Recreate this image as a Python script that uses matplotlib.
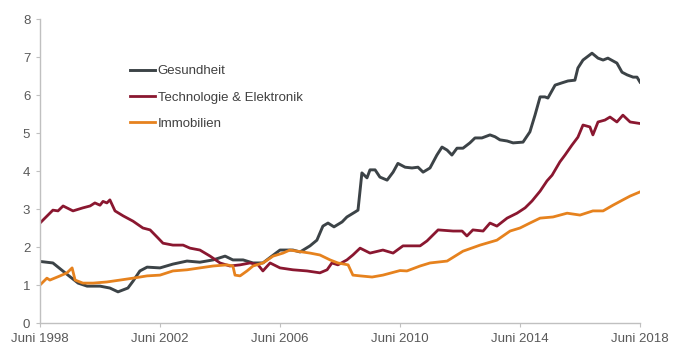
import matplotlib
matplotlib.use("Agg")
import matplotlib.pyplot as plt

# decimal years / index values
gesundheit_years = [
    1998.5, 1998.93, 1999.37, 1999.77, 2000.07, 2000.5, 2000.83, 2001.1, 2001.43, 2001.6,
    2001.83, 2002.07, 2002.5, 2002.93, 2003.4, 2003.83, 2004.27, 2004.67, 2004.93, 2005.27,
    2005.6, 2005.93, 2006.23, 2006.5, 2006.93, 2007.17, 2007.5, 2007.73, 2007.93, 2008.1,
    2008.3, 2008.57, 2008.73, 2009.0, 2009.1, 2009.23, 2009.4, 2009.5, 2009.67, 2009.83,
    2010.07, 2010.27, 2010.43, 2010.67, 2010.9, 2011.1, 2011.27, 2011.5, 2011.73, 2011.9,
    2012.07, 2012.23, 2012.4, 2012.6, 2012.83, 2013.0, 2013.23, 2013.5, 2013.67, 2013.83,
    2014.07, 2014.27, 2014.6, 2014.83, 2015.0, 2015.17, 2015.33, 2015.43, 2015.67, 2015.9,
    2016.1, 2016.33, 2016.43, 2016.6, 2016.9, 2017.1, 2017.27, 2017.43, 2017.73, 2017.9,
    2018.07, 2018.27, 2018.4, 2018.5,
]
gesundheit = [
    1.62, 1.58, 1.30, 1.05, 0.97, 0.97, 0.92, 0.82, 0.92, 1.10,
    1.37, 1.47, 1.45, 1.55, 1.63, 1.60, 1.66, 1.76, 1.66, 1.66,
    1.58, 1.58, 1.76, 1.92, 1.92, 1.87, 2.03, 2.18, 2.55, 2.63,
    2.53, 2.66, 2.79, 2.92, 2.97, 3.95, 3.82, 4.03, 4.03, 3.84,
    3.76, 3.97, 4.20, 4.10, 4.08, 4.10, 3.97, 4.08, 4.42, 4.63,
    4.55, 4.42, 4.60, 4.60, 4.74, 4.87, 4.87, 4.95, 4.90, 4.82,
    4.79, 4.74, 4.76, 5.03, 5.47, 5.95, 5.95, 5.92, 6.26, 6.32,
    6.37, 6.39, 6.71, 6.92, 7.10, 6.97, 6.92, 6.97, 6.84, 6.60,
    6.53, 6.47, 6.47, 6.34,
]

technologie_years = [
    1998.5, 1998.93, 1999.1, 1999.27, 1999.6, 1999.93, 2000.17, 2000.33, 2000.5, 2000.6,
    2000.73, 2000.83, 2001.0, 2001.27, 2001.6, 2001.93, 2002.17, 2002.43, 2002.6, 2002.93,
    2003.27, 2003.5, 2003.83, 2004.17, 2004.5, 2004.83, 2005.17, 2005.5, 2005.77, 2005.93,
    2006.17, 2006.5, 2006.93, 2007.4, 2007.83, 2008.07, 2008.23, 2008.43, 2008.73, 2008.93,
    2009.17, 2009.5, 2009.93, 2010.27, 2010.6, 2011.17, 2011.4, 2011.77, 2012.27, 2012.57,
    2012.73, 2012.93, 2013.27, 2013.5, 2013.73, 2014.07, 2014.4, 2014.67, 2014.9, 2015.17,
    2015.4, 2015.57, 2015.83, 2016.0, 2016.23, 2016.43, 2016.6, 2016.83, 2016.93, 2017.1,
    2017.33, 2017.5, 2017.73, 2017.93, 2018.17, 2018.5,
]
technologie = [
    2.63, 2.97, 2.95, 3.08, 2.95, 3.03, 3.08, 3.16, 3.10, 3.20,
    3.16, 3.24, 2.95, 2.82, 2.68, 2.50, 2.45, 2.24, 2.10, 2.05,
    2.05, 1.97, 1.92, 1.76, 1.58, 1.50, 1.53, 1.58, 1.53, 1.37,
    1.58, 1.45, 1.40, 1.37, 1.32, 1.40, 1.58, 1.53, 1.66, 1.79,
    1.97, 1.84, 1.92, 1.84, 2.03, 2.03, 2.16, 2.45, 2.42, 2.42,
    2.29, 2.45, 2.42, 2.63, 2.55, 2.76, 2.89, 3.03, 3.21, 3.47,
    3.74, 3.89, 4.24, 4.42, 4.68, 4.89, 5.21, 5.16, 4.95, 5.29,
    5.34, 5.42, 5.29, 5.47, 5.29, 5.25,
]

immobilien_years = [
    1998.5, 1998.73, 1998.83, 1999.17, 1999.4, 1999.57, 1999.67, 1999.93, 2000.27, 2000.73,
    2001.17, 2001.6, 2002.07, 2002.5, 2002.93, 2003.4, 2003.83, 2004.27, 2004.73, 2004.93,
    2005.0, 2005.17, 2005.4, 2005.6, 2005.93, 2006.27, 2006.6, 2006.83, 2007.07, 2007.5,
    2007.83, 2008.17, 2008.43, 2008.77, 2008.93, 2009.17, 2009.57, 2009.93, 2010.5, 2010.73,
    2011.17, 2011.5, 2012.07, 2012.6, 2013.17, 2013.73, 2014.17, 2014.5, 2014.83, 2015.17,
    2015.6, 2016.07, 2016.5, 2016.93, 2017.27, 2017.6, 2017.93, 2018.17, 2018.5,
]
immobilien = [
    1.00, 1.18, 1.13, 1.24, 1.32, 1.45, 1.13, 1.05, 1.05, 1.08,
    1.13, 1.18, 1.24, 1.26, 1.37, 1.40, 1.45, 1.50, 1.53, 1.50,
    1.26, 1.24, 1.37, 1.50, 1.58, 1.76, 1.84, 1.92, 1.89, 1.84,
    1.79, 1.66, 1.58, 1.53, 1.26, 1.24, 1.21, 1.26, 1.38, 1.37,
    1.50, 1.58, 1.63, 1.89, 2.05, 2.18, 2.42, 2.50, 2.63, 2.76,
    2.79, 2.89, 2.84, 2.95, 2.95, 3.10, 3.24, 3.34, 3.45,
]

tick_years = [1998.5, 2002.5, 2006.5, 2010.5, 2014.5, 2018.5]
tick_labels = ["Juni 1998", "Juni 2002", "Juni 2006", "Juni 2010", "Juni 2014", "Juni 2018"]

plt.rcParams['font.family'] = ['Liberation Sans', 'DejaVu Sans']

fig = plt.figure(figsize=(6.8, 3.56), dpi=100)
ax = fig.add_axes([40 / 680, 1 - 323 / 356, 600 / 680, 304 / 356])

ax.plot(gesundheit_years, gesundheit, color='#3c4347', lw=2.1, label='Gesundheit')
ax.plot(technologie_years, technologie, color='#8a1730', lw=2.0, label='Technologie & Elektronik')
ax.plot(immobilien_years, immobilien, color='#e6821e', lw=2.0, label='Immobilien')

ax.set_xlim(1998.5, 2018.5)
ax.set_ylim(0, 8)
ax.set_yticks(range(0, 9))
ax.set_xticks(tick_years)
ax.set_xticklabels(tick_labels)

for side in ['top', 'right']:
    ax.spines[side].set_visible(False)
for side in ['left', 'bottom']:
    ax.spines[side].set_color('#c0c0c0')
    ax.spines[side].set_linewidth(1.0)

ax.tick_params(axis='both', colors='#c0c0c0', labelcolor='#595959', labelsize=9.5, length=3)
ax.tick_params(axis='x', pad=4)
ax.tick_params(axis='y', pad=4)

leg = ax.legend(loc='upper left', bbox_to_anchor=(0.15, 0.848), frameon=False,
                fontsize=9.5, handlelength=1.9, handletextpad=0.2,
                labelspacing=1.05, borderpad=0, borderaxespad=0)
for t in leg.get_texts():
    t.set_color('#404040')

fig.savefig('out.png', dpi=100)
